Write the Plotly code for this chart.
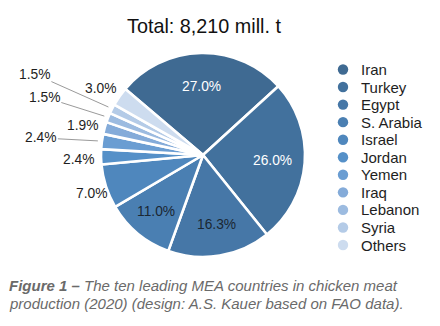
import math
import plotly.graph_objects as go

# ---- data ----
countries = ["Iran", "Turkey", "Egypt", "S. Arabia", "Israel", "Jordan",
             "Yemen", "Iraq", "Lebanon", "Syria", "Others"]
shares = [27.0, 26.0, 16.3, 11.0, 7.0, 2.4, 2.4, 1.9, 1.5, 1.5, 3.0]
title_text = "Total: 8,210 mill. t"
caption_bold = "Figure 1 \u2013"
caption_line1 = " The ten leading MEA countries in chicken meat"
caption_line2 = "production (2020) (design: A.S. Kauer based on FAO data)."

# ---- styles ----
colors = ["#3f6a92", "#42719d", "#4677a7", "#4a7fb2", "#4f87bd", "#5590c8",
          "#6a9dd2", "#84abd9", "#9cbbe0", "#b4cbe7", "#cddcef"]
W, H = 440, 326
CX, CY, R = 203, 155, 102
ROTATION = -49.6
# inside labels: radius factor and font colour
inside = {0: (0.76, "white"), 1: (0.68, "white"), 2: (0.79, "#1b2733"), 3: (0.72, "#1b2733")}
# outside labels: pixel offset of text from slice edge point, draw leader line?
outside = {4: (-11, 6, False), 5: (-18, 3, False), 6: (-57, -3, True),
           7: (-18, -1, False), 8: (-60, -19, True), 9: (-74, -33, True),
           10: (-16, -6, False)}
FONT = "Liberation Sans, Arial, Helvetica, sans-serif"


def px(x):
    return x / W


def py(y):
    return 1 - y / H


fig = go.Figure(go.Pie(
    labels=countries, values=shares, sort=False, direction="clockwise",
    rotation=ROTATION, textinfo="none", hoverinfo="label+percent",
    marker=dict(colors=colors, line=dict(color="white", width=2.6)),
    domain=dict(x=[px(CX - R), px(CX + R)], y=[py(CY + R), py(CY - R)]),
    showlegend=False,
))

annotations = []
total = sum(shares)
cum = 0.0
for i, v in enumerate(shares):
    mid = ROTATION + (cum + v / 2) / total * 360.0
    cum += v
    a = math.radians(mid)
    label = f"{v:.1f}%"
    if i in inside:
        f, col = inside[i]
        x = CX + f * R * math.sin(a)
        y = CY - f * R * math.cos(a)
        annotations.append(dict(x=px(x), y=py(y), xref="paper", yref="paper",
                                text=label, showarrow=False,
                                font=dict(size=13.8, color=col, family=FONT)))
    else:
        ax, ay, line = outside[i]
        x = CX + 1.04 * R * math.sin(a)
        y = CY - 1.04 * R * math.cos(a)
        annotations.append(dict(x=px(x), y=py(y), xref="paper", yref="paper",
                                text=label, showarrow=True, arrowhead=0,
                                arrowwidth=1, standoff=0,
                                arrowcolor="#9a9a9a" if line else "rgba(0,0,0,0)",
                                ax=ax, ay=ay, axref="pixel", ayref="pixel",
                                font=dict(size=13.8, color="#1e1e1e", family=FONT)))

# title
annotations.append(dict(x=px(204), y=py(26), xref="paper", yref="paper",
                        text=title_text, showarrow=False, xanchor="center",
                        yanchor="middle",
                        font=dict(size=19.8, color="#111111", family=FONT)))

# legend
shapes = []
for i, name in enumerate(countries):
    yy = 69.5 + 17.55 * i
    shapes.append(dict(type="circle", xref="paper", yref="paper",
                       xsizemode="pixel", ysizemode="pixel",
                       xanchor=px(343), yanchor=py(yy),
                       x0=-5.2, x1=5.2, y0=-5.2, y1=5.2,
                       fillcolor=colors[i], line=dict(width=0)))
    annotations.append(dict(x=px(359), y=py(yy), xref="paper", yref="paper",
                            text=name, showarrow=False, xanchor="left",
                            yanchor="middle",
                            font=dict(size=15, color="#1e1e1e", family=FONT)))

# caption (two lines)
cap_font = dict(size=15, color="#6a6a6a", family=FONT)
annotations.append(dict(x=px(7), y=py(285), xref="paper", yref="paper",
                        text=f"<b><i>{caption_bold}</i></b><i>{caption_line1}</i>",
                        showarrow=False, xanchor="left", yanchor="middle",
                        font=cap_font))
annotations.append(dict(x=px(7), y=py(303), xref="paper", yref="paper",
                        text=f"<i>{caption_line2}</i>",
                        showarrow=False, xanchor="left", yanchor="middle",
                        font=cap_font))

fig.update_layout(
    width=W, height=H, margin=dict(l=0, r=0, t=0, b=0),
    paper_bgcolor="white", plot_bgcolor="white",
    annotations=annotations, shapes=shapes,
)

fig.write_html("out.html")
